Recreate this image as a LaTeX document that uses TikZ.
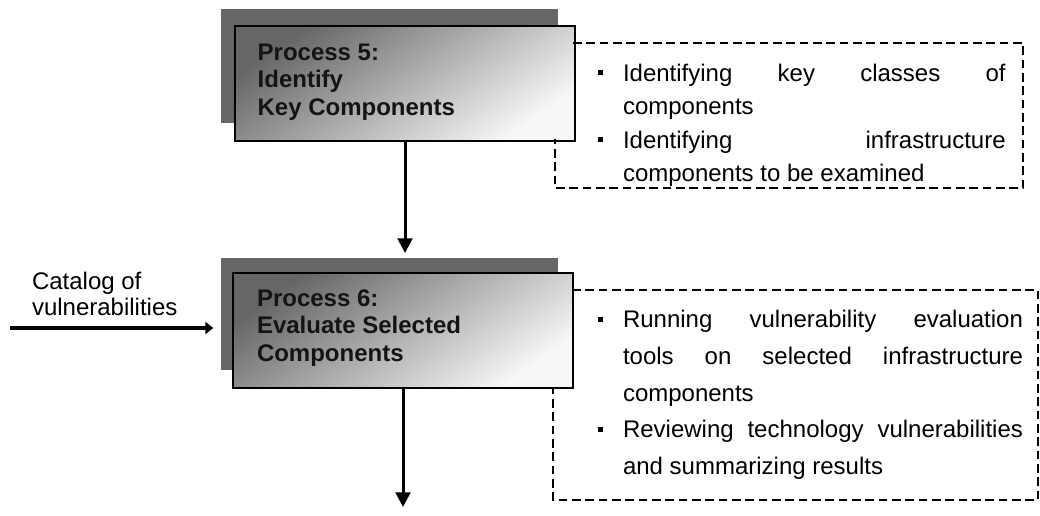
\documentclass[tikz,border=0pt]{standalone}
\usepackage{fontspec}
\setmainfont{Liberation Sans}
\usetikzlibrary{arrows.meta,positioning,calc}

\newcommand{\sqbullet}{\leavevmode\llap{\raisebox{4.5pt}{\rule{3.75pt}{3.75pt}}\hspace{15pt}}\strut}

\begin{document}
\begin{tikzpicture}
[x=0.75pt, y=-0.75pt, line width=1.5pt,
backbox/.style={rectangle, anchor=north west, inner sep=0pt, fill=black!60, minimum width=252.75pt},
frontbox/.style={rectangle, anchor=north west, inner sep=0pt, draw=black, line width=1.5pt,
  top color=black!60, middle color=black!30, bottom color=black!3, shading angle=35,
  minimum width=255pt, minimum height=86pt},
ptitle/.style={inner sep=0pt, align=left, text=black!92, font=\bfseries\fontsize{18}{20.6}\selectfont},
desc/.style={anchor=north west, inner sep=0pt, align=justify},
descframe/.style={dash pattern=on 6.5pt off 3.5pt, line width=1.4pt},
flow/.style={-{Triangle[length=11pt,width=11pt]}, line width=2.25pt},
feed/.style={-{Triangle[length=6pt,width=9pt]}, line width=3pt}]

\useasboundingbox (0,0) rectangle (1040,515);

% Process 5
\node[backbox, minimum height=85.5pt] (p5back) at (220,8) {};
\node[frontbox] (p5front) at (234,25) {};
\node[ptitle, right=17pt of p5front.west, anchor=west, yshift=1pt] (p5title) {Process 5:\\Identify\\Key Components};

\draw[descframe] (573,43) -- (1023,43) -- (1023,188) -- (555,188) -- (555,139);
\node[desc, text width=287pt, font=\fontsize{18}{25}\selectfont] (p5desc) at (622,57) {\sqbullet Identifying key classes of\linebreak components\par
\sqbullet Identifying infrastructure\linebreak components to be examined};

% Process 6
\node[backbox, minimum height=84pt] (p6back) at (220,257) {};
\node[frontbox] (p6front) at (232,272) {};
\node[ptitle, right=18pt of p6front.west, anchor=west, yshift=2pt] (p6title) {Process 6:\\Evaluate Selected\\Components};

\draw[descframe] (572,290) -- (1038,290) -- (1038,500) -- (553,500) -- (553,387);
\node[desc, text width=300pt, font=\fontsize{18}{27.5}\selectfont] (p6desc) at (622,301) {\sqbullet Running vulnerability evaluation\linebreak tools on selected infrastructure\linebreak components\par
\sqbullet Reviewing technology vulnerabilities\linebreak and summarizing results};

% input from the left
\node[anchor=north west, inner sep=0pt, align=left, font=\fontsize{18}{19.5}\selectfont] (catalog) at (31,271.5) {Catalog of\\vulnerabilities};
\coordinate (feedin) at (10,328);
\draw[feed, shorten >=5pt] (feedin) -- (feedin -| p6back.west);

% flow
\coordinate (p6out) at (p6front.south |- 0,507);
\draw[flow, shorten >=3pt] (p5front.south) -- (p5front.south |- p6back.north);
\draw[flow] (p6front.south) -- (p6out);
\end{tikzpicture}
\end{document}
